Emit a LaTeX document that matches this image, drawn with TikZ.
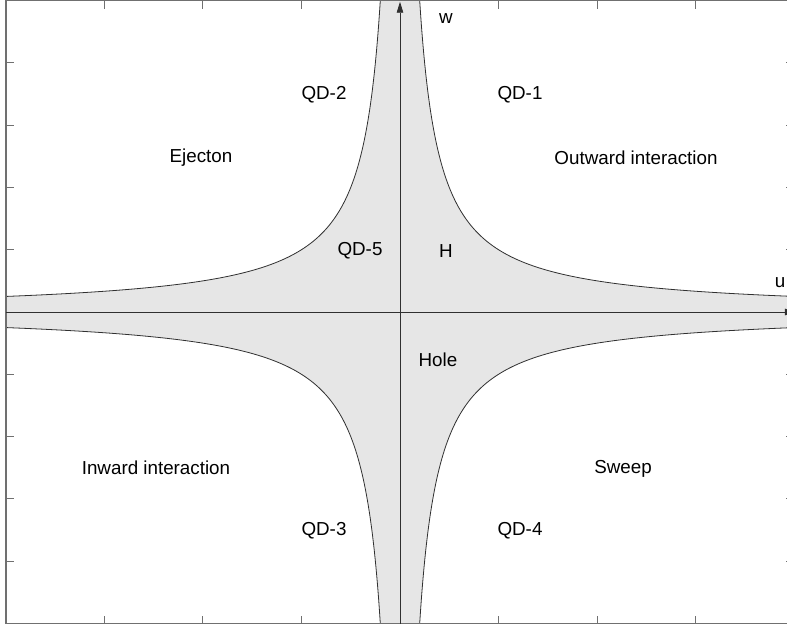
\documentclass[tikz,border=0pt]{standalone}
\usepackage{fontspec}
\setmainfont{Liberation Sans}
\usetikzlibrary{arrows.meta}
\definecolor{crossfill}{HTML}{E6E6E6}
\definecolor{framec}{HTML}{707070}
\definecolor{curvec}{HTML}{303030}
\tikzset{
  lbl/.style={inner sep=0pt, anchor=center, font=\fontsize{18.8}{21}\selectfont},
  framestyle/.style={draw=framec, line width=1.1pt},
  tickstyle/.style={draw=framec, line width=1pt},
  curve/.style={draw=curvec, line width=0.8pt},
  axisline/.style={draw=curvec, line width=0.9pt, -{Triangle[length=11pt,width=6.5pt]}},
}
\begin{document}
\begin{tikzpicture}[x=98.5pt,y=62.3pt]
\useasboundingbox (-400pt,-313pt) rectangle (387pt,312pt);
\fill[white] (-400pt,-313pt) rectangle (387pt,312pt);
% shaded cross region |uw|<=1
\fill[fill=crossfill]
  plot[domain=-1.6094:1.3863, samples=120, smooth] ({exp(\x)},{exp(-\x)})
  -- plot[domain=1.3863:-1.6094, samples=120, smooth] ({exp(\x)},{-exp(-\x)})
  -- plot[domain=-1.6094:1.3863, samples=120, smooth] ({-exp(\x)},{-exp(-\x)})
  -- plot[domain=1.3863:-1.6094, samples=120, smooth] ({-exp(\x)},{exp(-\x)})
  -- cycle;
% hyperbola boundaries
\draw[curve] plot[domain=-1.6094:1.3863, samples=120, smooth] ({exp(\x)},{exp(-\x)});
\draw[curve] plot[domain=-1.6094:1.3863, samples=120, smooth] ({exp(\x)},{-exp(-\x)});
\draw[curve] plot[domain=-1.6094:1.3863, samples=120, smooth] ({-exp(\x)},{-exp(-\x)});
\draw[curve] plot[domain=-1.6094:1.3863, samples=120, smooth] ({-exp(\x)},{exp(-\x)});
% frame
\draw[framestyle] (-4,-5) rectangle (4,5);
\foreach \i in {-3,-2,-1,1,2,3} {
  \draw[tickstyle] (\i,5) -- ++(0,-8pt);
  \draw[tickstyle] (\i,-5) -- ++(0,8pt);
}
\foreach \j in {-4,-3,-2,-1,1,2,3,4} {
  \draw[tickstyle] (-4,\j) -- ++(8pt,0);
  \draw[tickstyle] (4,\j) -- ++(-8pt,0);
}
% axes
\coordinate (uL) at (-4,0);
\coordinate (uR) at (4.02,0);
\coordinate (wB) at (0,-5);
\coordinate (wT) at (0,4.98);
\draw[axisline] (uL) -- (uR);
\draw[axisline] (wB) -- (wT);
% labels
\node[lbl] (lw) at (46pt,293pt) {w};
\node[lbl] (lu) at (380pt,29pt) {u};
\node[lbl] (qd2) at (-76pt,217pt) {QD-2};
\node[lbl] (qd1) at (120pt,217pt) {QD-1};
\node[lbl] (ej) at (-199pt,154pt) {Ejecton};
\node[lbl] (oi) at (236pt,154pt) {Outward interaction};
\node[lbl] (qd5) at (-40pt,61pt) {QD-5};
\node[lbl] (hh) at (46pt,61pt) {H};
\node[lbl] (hole) at (38pt,-48pt) {Hole};
\node[lbl] (ii) at (-244pt,-156pt) {Inward interaction};
\node[lbl] (sw) at (223pt,-157pt) {Sweep};
\node[lbl] (qd3) at (-76pt,-219pt) {QD-3};
\node[lbl] (qd4) at (120pt,-219pt) {QD-4};
\end{tikzpicture}
\end{document}
